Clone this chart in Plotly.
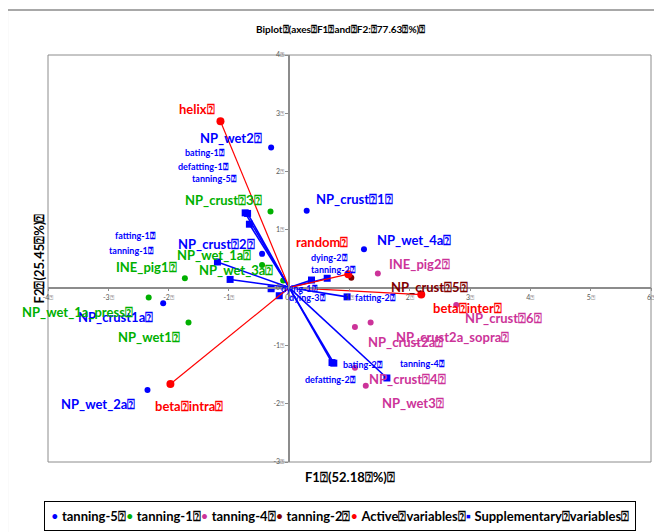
import plotly.graph_objects as go

B = "\u2370"  # box glyph that the source export shows in place of spaces

# ---------------- data ----------------
groups = ["tanning-5", "tanning-1", "tanning-4", "tanning-2"]
group_colors = ["#0000FF", "#00B000", "#CC3399", "#800000"]

t5_names = ["NP_wet2", "NP_crust" + B + "1", "NP_wet_4a", "NP_crust" + B + "2", "NP_crust1a", "NP_wet_2a"]
t5_x = [-0.30, 0.29, 1.24, -0.45, -2.09, -2.35]
t5_y = [2.41, 1.32, 0.66, 0.58, -0.27, -1.76]

t1_names = ["NP_crust" + B + "3", "NP_wet_1a", "NP_wet_3a", "INE_pig1", "NP_wet_1a_press", "NP_wet1"]
t1_x = [-0.31, -0.45, -0.10, -1.73, -2.33, -1.67]
t1_y = [1.31, 0.39, 0.12, 0.16, -0.17, -0.60]

t4_names = ["INE_pig2", "NP_crust" + B + "6", "NP_crust2a_sopra", "NP_crust2a", "NP_crust" + B + "4", "NP_wet3"]
t4_x = [1.47, 2.77, 1.35, 1.09, 1.09, 1.27]
t4_y = [0.24, -0.30, -0.60, -0.68, -1.38, -1.69]

t2_names = ["NP_crust" + B + "5"]
t2_x = [1.03]
t2_y = [0.17]

active_names = ["helix", "random", "beta" + B + "inter", "beta" + B + "intra"]
active_x = [-1.14, 0.98, 2.19, -1.97]
active_y = [2.86, 0.23, -0.12, -1.66]

sup_names = ["bating-1", "defatting-1", "tanning-5", "fatting-1", "tanning-1", "dying-1", "dying-3",
             "dying-2", "tanning-2", "fatting-2", "bating-2", "defatting-2", "tanning-4"]
sup_x = [-0.73, -0.69, -0.66, -1.19, -0.98, -0.30, -0.165, 0.37, 0.63, 0.96, 0.71, 0.74, 1.62]
sup_y = [1.285, 1.275, 1.09, 0.44, 0.14, -0.02, -0.14, 0.13, 0.16, -0.16, -1.29, -1.30, -1.555]

x_ticks = [-4, -3, -2, -1, 0, 1, 2, 3, 4, 5, 6]
y_ticks = [-3, -2, -1, 0, 1, 2, 3, 4]

title_text = "Biplot" + B + "(axes" + B + "F1" + B + "and" + B + "F2:" + B + "77.63" + B + "%)" + B
xtitle_text = "F1" + B + "(52.18" + B + "%)" + B
ytitle_text = "F2" + B + "(25.45" + B + "%)" + B
active_legend = "Active" + B + "variables"
sup_legend = "Supplementary" + B + "variables"

# ---------------- style: label offsets in screen px (dx right, dy down) ----------------
t5_off = [(-40, -9), (48, -12), (50, -9), (-46, -10), (-48, 14), (-49, 14)]
t1_off = [(-47, -11), (-48, -10), (-47, -11), (-38, -11), (-71, 15), (-40, 15)]
t4_off = [(42, -10), (47, 13), (82, 15), (51, 15), (53, 11), (47, 17)]
t2_off = [(78, 9)]
active_off = [(-23, -12), (-26, -32), (46, 13), (19, 22)]
sup_off = [(-40, -60), (-44, -47), (-35, -46), (-82, -26), (-99, -29), (28, 0), (28, 2),
           (18, -23), (6, -9), (28, 1), (31, 2), (-3, 16), (36, -14)]

FONT = "Lato, 'Liberation Sans', sans-serif"
RED = "#FF0000"
SUPBLUE = "#0000FF"

fig = go.Figure()
annotations = []

obs_sets = [(t5_names, t5_x, t5_y, t5_off), (t1_names, t1_x, t1_y, t1_off),
            (t4_names, t4_x, t4_y, t4_off), (t2_names, t2_x, t2_y, t2_off)]

for (names, xs, ys, offs), gname, col in zip(obs_sets, groups, group_colors):
    fig.add_trace(go.Scatter(x=xs, y=ys, mode="markers", name=gname,
                             marker=dict(color=col, size=6), showlegend=False))
    for n, xv, yv, (dx, dy) in zip(names, xs, ys, offs):
        annotations.append(dict(x=xv, y=yv, xref="x", yref="y", text="<b>" + n + B + "</b>",
                                showarrow=False, xshift=dx, yshift=-dy,
                                xanchor="center", yanchor="middle",
                                font=dict(family=FONT, size=13, color=col)))

# supplementary vectors
sx, sy = [], []
for xv, yv in zip(sup_x, sup_y):
    sx += [0, xv, None]
    sy += [0, yv, None]
fig.add_trace(go.Scatter(x=sx, y=sy, mode="lines", line=dict(color=SUPBLUE, width=1.6),
                         showlegend=False, hoverinfo="skip"))
fig.add_trace(go.Scatter(x=sup_x, y=sup_y, mode="markers", name=sup_legend,
                         marker=dict(color=SUPBLUE, size=7, symbol="square"), showlegend=False))
for n, xv, yv, (dx, dy) in zip(sup_names, sup_x, sup_y, sup_off):
    annotations.append(dict(x=xv, y=yv, xref="x", yref="y", text="<b>" + n + B + "</b>",
                            showarrow=False, xshift=dx, yshift=-dy,
                            xanchor="center", yanchor="middle",
                            font=dict(family=FONT, size=9, color=SUPBLUE)))

# active vectors
ax_, ay_ = [], []
for xv, yv in zip(active_x, active_y):
    ax_ += [0, xv, None]
    ay_ += [0, yv, None]
fig.add_trace(go.Scatter(x=ax_, y=ay_, mode="lines", line=dict(color=RED, width=1.2),
                         showlegend=False, hoverinfo="skip"))
fig.add_trace(go.Scatter(x=active_x, y=active_y, mode="markers", name=active_legend,
                         marker=dict(color=RED, size=8), showlegend=False))
for n, xv, yv, (dx, dy) in zip(active_names, active_x, active_y, active_off):
    annotations.append(dict(x=xv, y=yv, xref="x", yref="y", text="<b>" + n + B + "</b>",
                            showarrow=False, xshift=dx, yshift=-dy,
                            xanchor="center", yanchor="middle",
                            font=dict(family=FONT, size=13, color=RED)))

# titles
annotations.append(dict(x=0.485, y=1.064, xref="paper", yref="paper", text="<b>" + title_text + "</b>",
                        showarrow=False, xanchor="center", yanchor="middle",
                        font=dict(family=FONT, size=10, color="#000000")))
annotations.append(dict(x=0.5, y=-0.037, xref="paper", yref="paper", text="<b>" + xtitle_text + "</b>",
                        showarrow=False, xanchor="center", yanchor="middle",
                        font=dict(family=FONT, size=13, color="#000000")))
annotations.append(dict(x=-0.015, y=0.5, xref="paper", yref="paper", text="<b>" + ytitle_text + "</b>",
                        showarrow=False, textangle=-90, xanchor="center", yanchor="middle",
                        font=dict(family=FONT, size=13, color="#000000")))

# legend (drawn as one text box)
leg_items = [(c, "\u2022", g) for g, c in zip(groups, group_colors)]
leg_items += [(RED, "\u2022", active_legend), (SUPBLUE, "\u25AA", sup_legend)]
leg_text = "".join("<span style='color:%s'>%s</span> <b>%s%s</b>" % (c, s, t, B) for c, s, t in leg_items)
annotations.append(dict(x=0.484, y=-0.1315, xref="paper", yref="paper", text=leg_text,
                        showarrow=False, xanchor="center", yanchor="middle",
                        bordercolor="#000000", borderwidth=1, borderpad=6,
                        font=dict(family=FONT, size=13, color="#000000")))

shapes = [
    dict(type="rect", xref="paper", yref="paper", x0=0, x1=1, y0=0, y1=1,
         line=dict(color="#8C8C8C", width=1), layer="below"),
    dict(type="rect", xref="paper", yref="paper", x0=-0.0675, x1=1.03, y0=-0.32, y1=1.1106,
         line=dict(color="#8C8C8C", width=1.5), layer="below"),
]

axis_common = dict(showgrid=False, zeroline=False, showline=True, linecolor="#8C8C8C", linewidth=1.5,
                   ticks="outside", ticklen=3, tickcolor="#8C8C8C",
                   tickfont=dict(family=FONT, size=7, color="#595959"), fixedrange=True)

fig.update_layout(
    width=654, height=524,
    margin=dict(l=40, r=7, t=47, b=70),
    paper_bgcolor="white", plot_bgcolor="white",
    showlegend=False,
    xaxis=dict(range=[-4, 6], anchor="free", position=3 / 7,
               tickvals=x_ticks, ticktext=[str(v) + B for v in x_ticks], **axis_common),
    yaxis=dict(range=[-3, 4], anchor="free", position=0.4,
               tickvals=y_ticks, ticktext=[str(v) + B for v in y_ticks], **axis_common),
    annotations=annotations,
    shapes=shapes,
)

fig.write_html("out.html")
